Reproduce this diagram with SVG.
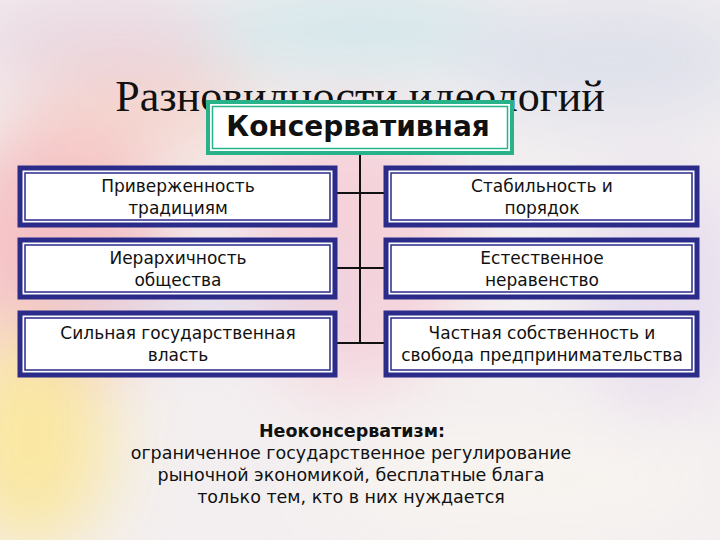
<svg xmlns="http://www.w3.org/2000/svg" width="720" height="540" viewBox="0 0 720 540">
<defs>
<filter id="blur" x="-50%" y="-50%" width="200%" height="200%"><feGaussianBlur stdDeviation="35"/></filter>
<style>
.box{fill:#ffffff;stroke:#2b2b8a;stroke-width:5}
.inner{fill:none;stroke:#2b2b8a;stroke-width:1.5}
.txt{font-family:"DejaVu Sans",Verdana,sans-serif;font-size:17px;fill:#111;text-anchor:middle}
.note{font-family:"DejaVu Sans",Verdana,sans-serif;font-size:17.5px;fill:#111;text-anchor:middle}
.conn{stroke:#111;stroke-width:2;fill:none}
</style>
</defs>
<rect width="720" height="540" fill="#f3eff0"/>
<g filter="url(#blur)" opacity="0.9">
<ellipse cx="60" cy="250" rx="110" ry="130" fill="#f5bcc0"/>
<ellipse cx="30" cy="440" rx="80" ry="110" fill="#fbe69a"/>
<ellipse cx="110" cy="40" rx="150" ry="45" fill="#e8d4e0"/>
<ellipse cx="360" cy="30" rx="170" ry="40" fill="#cde5ea"/>
<ellipse cx="610" cy="60" rx="150" ry="60" fill="#dcdfea"/>
<ellipse cx="350" cy="250" rx="110" ry="140" fill="#f6cfd8"/>
<ellipse cx="660" cy="290" rx="80" ry="120" fill="#e6dbee"/>
<ellipse cx="200" cy="300" rx="160" ry="25" fill="#d8d4ea"/>
<ellipse cx="140" cy="110" rx="120" ry="40" fill="#f6d2c8"/>
<ellipse cx="520" cy="480" rx="200" ry="60" fill="#f8f4f0"/>
</g>
<text x="360" y="111" font-family="Liberation Serif,serif" font-size="44" fill="#111" text-anchor="middle">Разновидности идеологий</text>
<g id="connectors">
<line class="conn" x1="360" y1="154" x2="360" y2="344"/>
<line class="conn" x1="336" y1="193" x2="386" y2="193"/>
<line class="conn" x1="336" y1="268" x2="386" y2="268"/>
<line class="conn" x1="336" y1="343" x2="386" y2="343"/>
</g>
<g id="root">
<rect x="208" y="102" width="304" height="51" fill="#fff" stroke="#27b28a" stroke-width="4"/>
<rect x="212.5" y="106.5" width="295" height="42" fill="none" stroke="#27b28a" stroke-width="1.5"/>
<text x="358" y="136" font-family="DejaVu Sans,Verdana,sans-serif" font-size="28" font-weight="bold" fill="#111" text-anchor="middle">Консервативная</text>
</g>
<g id="n1">
<rect class="box" x="20" y="168" width="315" height="57"/>
<rect class="inner" x="25" y="173" width="305" height="47"/>
<text class="txt" x="178" y="192">Приверженность</text>
<text class="txt" x="178" y="214">традициям</text>
</g>
<g id="n2">
<rect class="box" x="20" y="240" width="315" height="57"/>
<rect class="inner" x="25" y="245" width="305" height="47"/>
<text class="txt" x="178" y="264">Иерархичность</text>
<text class="txt" x="178" y="286">общества</text>
</g>
<g id="n3">
<rect class="box" x="20" y="313" width="315" height="62"/>
<rect class="inner" x="25" y="318" width="305" height="52"/>
<text class="txt" x="178" y="339">Сильная государственная</text>
<text class="txt" x="178" y="361">власть</text>
</g>
<g id="n4">
<rect class="box" x="386" y="168" width="311" height="57"/>
<rect class="inner" x="391" y="173" width="301" height="47"/>
<text class="txt" x="542" y="192">Стабильность и</text>
<text class="txt" x="542" y="214">порядок</text>
</g>
<g id="n5">
<rect class="box" x="386" y="240" width="311" height="57"/>
<rect class="inner" x="391" y="245" width="301" height="47"/>
<text class="txt" x="542" y="264">Естественное</text>
<text class="txt" x="542" y="286">неравенство</text>
</g>
<g id="n6">
<rect class="box" x="386" y="313" width="311" height="62"/>
<rect class="inner" x="391" y="318" width="301" height="52"/>
<text class="txt" x="542" y="339">Частная собственность и</text>
<text class="txt" x="542" y="361">свобода предпринимательства</text>
</g>
<g id="note">
<text class="note" x="352" y="437" font-weight="bold">Неоконсерватизм:</text>
<text class="note" x="351" y="459">ограниченное государственное регулирование</text>
<text class="note" x="351" y="481">рыночной экономикой, бесплатные блага</text>
<text class="note" x="351" y="503">только тем, кто в них нуждается</text>
</g>
</svg>
